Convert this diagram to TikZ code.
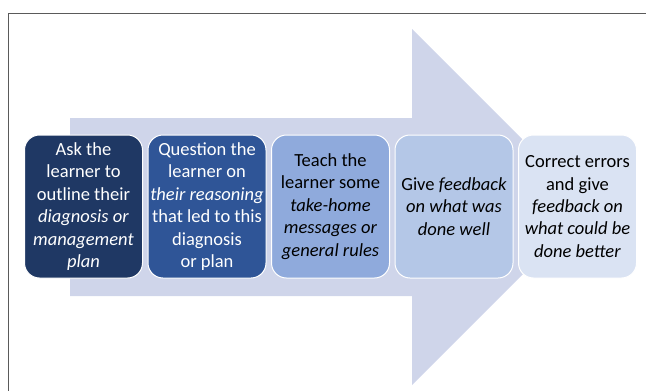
\documentclass[tikz,border=0pt]{standalone}
\usepackage{fontspec}
\setmainfont{Carlito}
\definecolor{arrowfill}{HTML}{CFD5EA}
\definecolor{stepA}{HTML}{1F3864}
\definecolor{stepB}{HTML}{2F5597}
\definecolor{stepC}{HTML}{8FAADC}
\definecolor{stepD}{HTML}{B4C7E7}
\definecolor{stepE}{HTML}{DAE3F3}
\definecolor{framegray}{HTML}{5A5A5A}
\begin{document}
\begin{tikzpicture}[x=1pt,y=-1pt,
  stepbox/.style={draw=white,line width=1pt,rounded corners=15pt,
    minimum width=118pt,minimum height=143pt,inner sep=0pt,align=center,
    font=\fontsize{18.5}{22.4}\selectfont},
  darkbox/.style={stepbox,text=white},
  lightbox/.style={stepbox,text=black}]
\useasboundingbox (0,0) rectangle (646,391);
% outer frame (open to the right and bottom)
\draw[framegray,line width=1.3pt] (646,13.5) -- (8.7,13.5) -- (8.7,391);
% large background arrow
\fill[arrowfill] (70,118) -- (412,118) -- (412,29) -- (590,207)
  -- (412,385) -- (412,296) -- (70,296) -- cycle;
% the five steps
\node[darkbox,fill=stepA] (s1) at (83.5,206.5)
  {Ask the\\learner to\\outline their\\\textit{diagnosis or}\\\textit{management}\\\textit{plan}};
\node[darkbox,fill=stepB] (s2) at (207,206.5)
  {Question the\\learner on\\\textit{their reasoning}\\that led to this\\diagnosis\\or plan};
\node[lightbox,fill=stepC] (s3) at (330.5,206.5)
  {Teach the\\learner some\\\textit{take-home}\\\textit{messages or}\\\textit{general rules}};
\node[lightbox,fill=stepD] (s4) at (454,206.5)
  {Give \textit{feedback}\\\textit{on what was}\\\textit{done well}};
\node[lightbox,fill=stepE] (s5) at (577.5,206.5)
  {Correct errors\\and give\\\textit{feedback on}\\\textit{what could be}\\\textit{done better}};
\end{tikzpicture}
\end{document}
